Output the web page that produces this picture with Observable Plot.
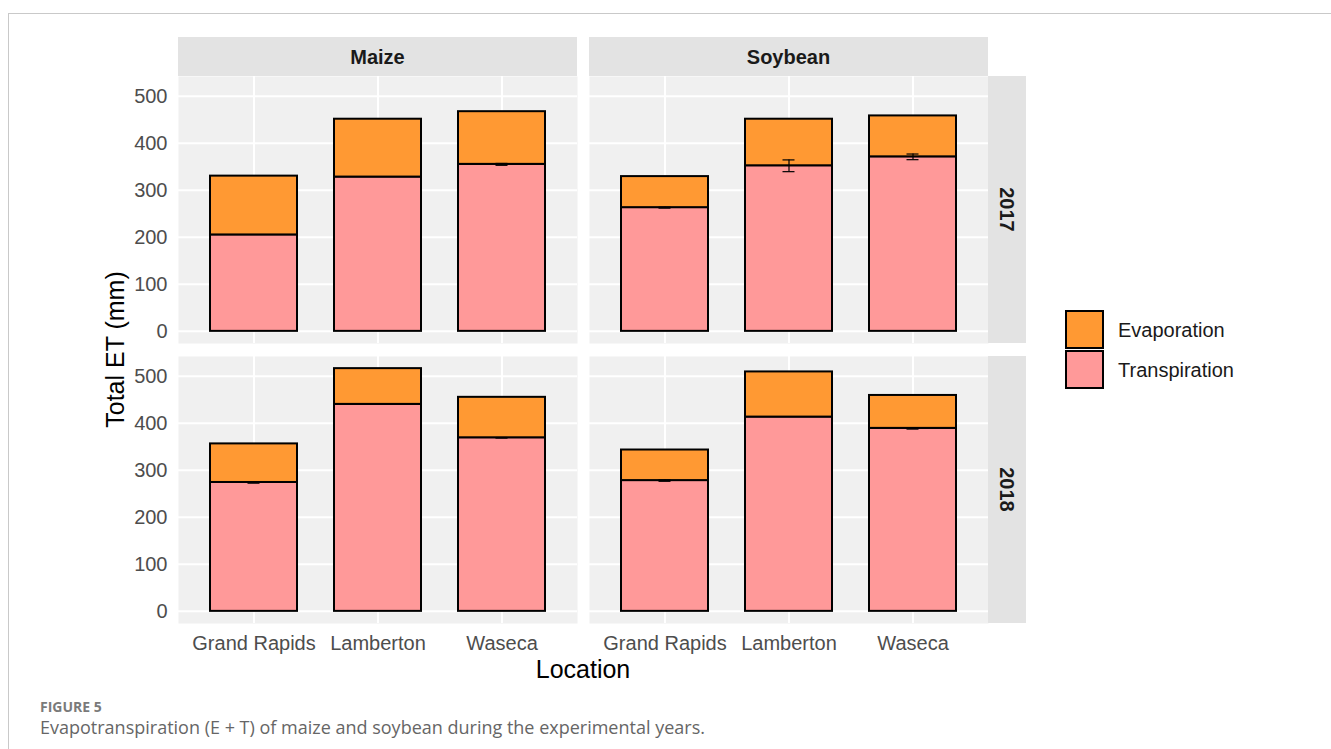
<!DOCTYPE html>
<html>
<head>
<meta charset="utf-8">
<script src="https://cdn.jsdelivr.net/npm/d3@7"></script>
<script src="https://cdn.jsdelivr.net/npm/@observablehq/plot@0.6"></script>
<style>
  body { margin: 0; background: #fff; width: 1331px; height: 749px; overflow: hidden; position: relative; font-family: "Liberation Sans", Arial, sans-serif; }
  #border { position: absolute; left: 8px; top: 13px; width: 1400px; height: 800px; border: 1px solid #c9c9c9; }
  #chart { position: absolute; left: 0; top: 0; }
  #fig { position: absolute; left: 40px; top: 697px; font-family: "Open Sans", sans-serif; font-weight: 700; font-size: 14px; color: #7a7a7a; }
  #cap { position: absolute; left: 40px; top: 715px; font-family: "Open Sans", sans-serif; font-size: 18px; color: #666; }
</style>
</head>
<body>
<div id="border"></div>
<div id="chart"></div>
<div id="fig">FIGURE 5</div>
<div id="cap">Evapotranspiration (E + T) of maize and soybean during the experimental years.</div>
<script>
// Facets, categories and legend entries
const crops = ["Maize", "Soybean"];
const years = ["2017", "2018"];
const locations = ["Grand Rapids", "Lamberton", "Waseca"];
const components = ["Evaporation", "Transpiration"];
const componentColors = ["#FF9933", "#FF9999"];
const yTicks = [0, 100, 200, 300, 400, 500];

// Transpiration (mm), by location
const transpirationMaize2017 = [205, 328, 355];
const transpirationSoybean2017 = [263, 352, 371];
const transpirationMaize2018 = [274, 440, 369];
const transpirationSoybean2018 = [278, 413, 389];

// Evaporation (mm), by location
const evaporationMaize2017 = [125, 123, 112];
const evaporationSoybean2017 = [66, 99, 87];
const evaporationMaize2018 = [82, 76, 86];
const evaporationSoybean2018 = [65, 96, 70];

// Standard error of transpiration (mm); null where no bar is drawn
const seMaize2017 = [null, null, 2];
const seSoybean2017 = [1, 12.5, 6];
const seMaize2018 = [1.5, null, 0.5];
const seSoybean2018 = [1.5, null, 1.5];

const groups = [
  ["Maize", "2017", transpirationMaize2017, evaporationMaize2017, seMaize2017],
  ["Soybean", "2017", transpirationSoybean2017, evaporationSoybean2017, seSoybean2017],
  ["Maize", "2018", transpirationMaize2018, evaporationMaize2018, seMaize2018],
  ["Soybean", "2018", transpirationSoybean2018, evaporationSoybean2018, seSoybean2018]
];

// Tidy rows: transpiration first so it sits at the bottom of each stack
const rows = [];
for (const [crop, year, T, E, se] of groups) {
  locations.forEach((location, i) => {
    rows.push({crop, year, location, component: "Transpiration", value: T[i], se: se[i]});
    rows.push({crop, year, location, component: "Evaporation", value: E[i], se: null});
  });
}

// ggplot-style 5% expansion of the value range
const totals = groups.flatMap(([, , T, E]) => T.map((t, i) => t + E[i]));
const yMax = d3.max(totals);
const yPad = yMax * 0.05;

const hasError = d => d.component === "Transpiration" && d.se != null;

const chart = Plot.plot({
  width: 1331,
  height: 690,
  marginLeft: 178,
  marginRight: 343,
  marginTop: 76,
  marginBottom: 67,
  style: {fontFamily: "Liberation Sans, Arial, sans-serif", fontSize: "20px", color: "#4d4d4d", background: "transparent"},
  facet: {data: rows, x: "crop", y: "year"},
  fx: {domain: crops, paddingInner: 12 / 411, paddingOuter: 0, axis: null},
  fy: {domain: years, paddingInner: 13 / 280, paddingOuter: 0, axis: null},
  x: {domain: locations, paddingInner: 0.3, paddingOuter: 0.25, tickSize: 0, tickPadding: 12, label: null},
  y: {domain: [-yPad, yMax + yPad], ticks: yTicks, tickSize: 0, tickPadding: 11, label: null},
  color: {domain: components, range: componentColors},
  marks: [
    Plot.frame({fill: "#f0f0f0"}),
    Plot.ruleY(yTicks, {stroke: "white", strokeWidth: 2}),
    Plot.ruleX(locations, {x: d => d, stroke: "white", strokeWidth: 2}),
    Plot.barY(rows, Plot.stackY({x: "location", y: "value", fill: "component", stroke: "black", strokeWidth: 2})),
    Plot.ruleX(rows, {filter: hasError, x: "location", y1: d => d.value - d.se, y2: d => d.value + d.se, stroke: "black", strokeWidth: 1.2}),
    Plot.tickY(rows, {filter: hasError, x: "location", y: d => d.value - d.se, stroke: "black", strokeWidth: 1.2, insetLeft: 37.5, insetRight: 37.5}),
    Plot.tickY(rows, {filter: hasError, x: "location", y: d => d.value + d.se, stroke: "black", strokeWidth: 1.2, insetLeft: 37.5, insetRight: 37.5})
  ]
});

document.getElementById("chart").appendChild(chart);

// Facet strips, axis titles and legend, placed from the plot's own facet scales
const fxd = chart.scale("fx");
const fyd = chart.scale("fy");
const fx = d3.scaleBand(fxd.domain, fxd.range).paddingInner(fxd.paddingInner).paddingOuter(fxd.paddingOuter).align(fxd.align ?? 0.5).round(!!fxd.round);
const fy = d3.scaleBand(fyd.domain, fyd.range).paddingInner(fyd.paddingInner).paddingOuter(fyd.paddingOuter).align(fyd.align ?? 0.5).round(!!fyd.round);

const svg = d3.select(chart);
const stripSize = 39;
const panelTop = fyd.range[0];
const panelBottom = fyd.range[1];
const panelLeft = fxd.range[0];
const panelRight = fxd.range[1];
const font = "Liberation Sans, Arial, sans-serif";

const strips = svg.append("g").attr("font-family", font).attr("font-weight", "bold").attr("font-size", 20).attr("fill", "#1a1a1a");
for (const crop of crops) {
  strips.append("rect").attr("x", fx(crop)).attr("y", panelTop - stripSize)
    .attr("width", fx.bandwidth()).attr("height", stripSize).attr("fill", "#e3e3e3");
  strips.append("text").attr("x", fx(crop) + fx.bandwidth() / 2).attr("y", panelTop - stripSize / 2)
    .attr("text-anchor", "middle").attr("dominant-baseline", "central").text(crop);
}
for (const year of years) {
  strips.append("rect").attr("x", panelRight).attr("y", fy(year))
    .attr("width", stripSize - 1).attr("height", fy.bandwidth()).attr("fill", "#e3e3e3");
  strips.append("text")
    .attr("transform", `translate(${panelRight + (stripSize - 1) / 2},${fy(year) + fy.bandwidth() / 2}) rotate(90)`)
    .attr("text-anchor", "middle").attr("dominant-baseline", "central").text(year);
}

const titles = svg.append("g").attr("font-family", font).attr("font-size", 25).attr("fill", "#000");
titles.append("text")
  .attr("transform", `translate(${panelLeft - 63},${(panelTop + panelBottom) / 2}) rotate(-90)`)
  .attr("text-anchor", "middle").attr("dominant-baseline", "central").text("Total ET (mm)");
titles.append("text")
  .attr("x", (panelLeft + panelRight) / 2).attr("y", panelBottom + 46)
  .attr("text-anchor", "middle").attr("dominant-baseline", "central").text("Location");

const colorScale = chart.scale("color");
const key = 37;
const legend = svg.append("g").attr("transform", `translate(${panelRight + 78},311)`)
  .attr("font-family", font).attr("font-size", 20).attr("fill", "#1a1a1a").attr("text-anchor", "start");
colorScale.domain.forEach((name, i) => {
  legend.append("rect").attr("x", 0).attr("y", i * (key + 3))
    .attr("width", key).attr("height", key).attr("fill", colorScale.range[i])
    .attr("stroke", "black").attr("stroke-width", 2);
  legend.append("text").attr("x", key + 15).attr("y", i * (key + 3) + key / 2)
    .attr("text-anchor", "start").attr("dominant-baseline", "central").text(name);
});
</script>
</body>
</html>
